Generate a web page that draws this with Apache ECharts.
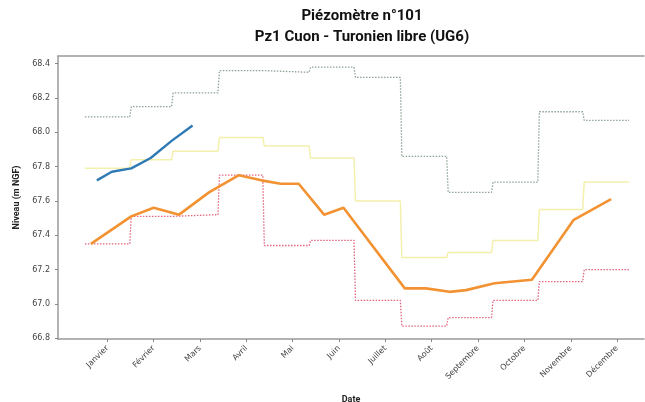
<!DOCTYPE html>
<html>
<head>
<meta charset="utf-8">
<script src="https://cdn.jsdelivr.net/npm/echarts@6/dist/echarts.min.js"></script>
<style>
  html, body { margin: 0; padding: 0; background: #fff; }
  #main { width: 645px; height: 402px; }
</style>
</head>
<body>
<div id="main"></div>
<script>
// mois et positions des graduations (jour de l'année)
var months = ['Janvier', 'Février', 'Mars', 'Avril', 'Mai', 'Juin', 'Juillet', 'Août', 'Septembre', 'Octobre', 'Novembre', 'Décembre'];
var tickDays = [15, 46, 77, 108, 139, 170, 201, 232, 263, 294, 325, 356];
var monthStart = [0, 31, 59, 90, 120, 151, 181, 212, 243, 273, 304, 334, 365];
var yTicks = [66.8, 67.0, 67.2, 67.4, 67.6, 67.8, 68.0, 68.2, 68.4];

// statistiques mensuelles
var maxVals = [68.09, 68.15, 68.23, 68.36, 68.35, 68.38, 68.32, 67.86, 67.65, 67.71, 68.12, 68.07];
var meanVals = [67.79, 67.84, 67.89, 67.97, 67.92, 67.85, 67.60, 67.27, 67.30, 67.37, 67.55, 67.71];
var minVals = [67.35, 67.51, 67.52, 67.75, 67.34, 67.37, 67.02, 66.87, 66.92, 67.02, 67.13, 67.20];

// mesures (jour de l'année, niveau)
var orangeDays = [4, 31, 46, 63, 83, 103, 118, 131, 143, 160, 173, 214, 228, 244, 255, 274, 299, 327, 352];
var orangeVals = [67.35, 67.51, 67.56, 67.52, 67.65, 67.75, 67.72, 67.70, 67.70, 67.52, 67.56, 67.09, 67.09, 67.07, 67.08, 67.12, 67.14, 67.49, 67.61];
var blueDays = [8, 18, 31, 44, 58, 72];
var blueVals = [67.72, 67.77, 67.79, 67.85, 67.95, 68.04];

function monthly(vals) {
  var out = [];
  for (var i = 0; i < vals.length; i++) {
    out.push([monthStart[i], vals[i]]);
    out.push([monthStart[i + 1] - 1, vals[i]]);
  }
  return out;
}
function pairs(xs, ys) {
  return xs.map(function (x, i) { return [x, ys[i]]; });
}

var myChart = echarts.init(document.getElementById('main'));
var axisGrey = { color: '#9a9a9a', width: 1.5 };
var option = {
  animation: false,
  title: {
    text: 'Piézomètre n°101\nPz1 Cuon - Turonien libre (UG6)',
    left: 357,
    textAlign: 'center',
    top: 1,
    textStyle: { fontFamily: 'Roboto', fontWeight: 'bold', fontSize: 15, lineHeight: 21, color: '#111' }
  },
  grid: { left: 58, top: 56, right: 1, bottom: 63, outerBoundsMode: 'none', containLabel: false },
  xAxis: [{
    type: 'value',
    min: -18, max: 374,
    name: 'Date', nameLocation: 'middle', nameGap: 56,
    nameTextStyle: { fontFamily: 'Roboto', fontWeight: 'bold', fontSize: 9, color: '#222' },
    splitLine: { show: false },
    axisLine: { show: true, onZero: false, lineStyle: axisGrey },
    axisTick: { show: true, customValues: tickDays, length: 3, lineStyle: { color: '#888' } },
    axisLabel: {
      customValues: tickDays, rotate: 45, fontSize: 8, color: '#444', fontFamily: 'DejaVu Sans',
      formatter: function (v) { return months[tickDays.indexOf(v)]; }
    }
  }, {
    // bordure haute du cadre
    type: 'value', position: 'top',
    min: -18, max: 374,
    splitLine: { show: false },
    axisLine: { show: true, onZero: false, lineStyle: axisGrey },
    axisTick: { show: false },
    axisLabel: { show: false }
  }],
  yAxis: {
    type: 'value',
    min: 66.795, max: 68.445,
    name: 'Niveau (m NGF)', nameLocation: 'middle', nameGap: 25,
    nameTextStyle: { fontFamily: 'Roboto', fontWeight: 'bold', fontSize: 9, color: '#222' },
    splitLine: { show: false },
    axisLine: { show: true, onZero: false, lineStyle: axisGrey },
    axisTick: { show: true, customValues: yTicks, length: 3, lineStyle: { color: '#888' } },
    axisLabel: {
      customValues: yTicks, fontSize: 8, color: '#444', fontFamily: 'DejaVu Sans',
      formatter: function (v) { return v.toFixed(1); }
    }
  },
  series: [
    {
      name: 'Maximum', type: 'line', symbol: 'none',
      data: monthly(maxVals),
      lineStyle: { color: '#8ea392', width: 1.3, type: [1.5, 1.5] }
    },
    {
      name: 'Moyenne', type: 'line', symbol: 'none',
      data: monthly(meanVals),
      lineStyle: { color: '#f3f0ad', width: 1.5 }
    },
    {
      name: 'Minimum', type: 'line', symbol: 'none',
      data: monthly(minVals),
      lineStyle: { color: '#e2657f', width: 1.3, type: [1.5, 1.5] }
    },
    {
      name: '2022', type: 'line', symbol: 'none',
      data: pairs(orangeDays, orangeVals),
      lineStyle: { color: '#f39232', width: 2.6 }
    },
    {
      name: '2023', type: 'line', symbol: 'none',
      data: pairs(blueDays, blueVals),
      lineStyle: { color: '#2f7ab4', width: 2.4 }
    }
  ]
};
myChart.setOption(option);
</script>
</body>
</html>
